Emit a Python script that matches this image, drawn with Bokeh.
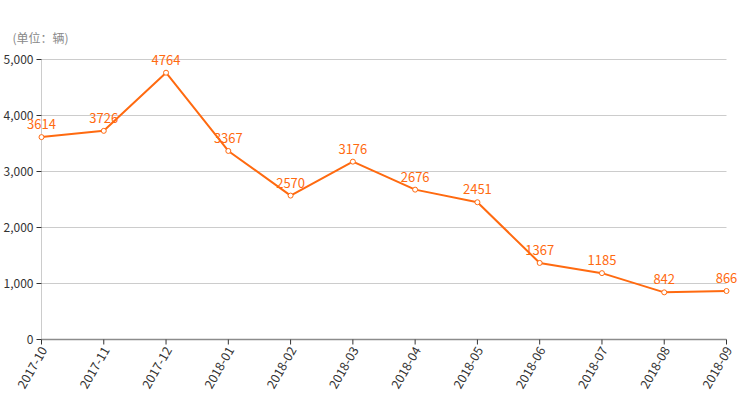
import math
from bokeh.plotting import figure
from bokeh.models import ColumnDataSource, Range1d
from bokeh.core.properties import value
from bokeh.embed import file_html
from bokeh.resources import INLINE

months = ["2017-10", "2017-11", "2017-12", "2018-01", "2018-02", "2018-03",
          "2018-04", "2018-05", "2018-06", "2018-07", "2018-08", "2018-09"]
sales = [3614, 3726, 4764, 3367, 2570, 3176, 2676, 2451, 1367, 1185, 842, 866]
y_ticks = [0, 1000, 2000, 3000, 4000, 5000]
unit_label = "(单位：辆)"

FONT = value("Noto Sans CJK SC")
ORANGE = "#ff6a10"

W, H = 756, 400
LEFT, RIGHT, TOP, BOTTOM = 41, 30, 59, 61
n = len(months)
ymax = y_ticks[-1]
xs = list(range(n))
px_x = (W - LEFT - RIGHT) / (n - 1)
px_y = (H - TOP - BOTTOM) / ymax

p = figure(width=W, height=H, output_backend="svg", toolbar_location=None,
           x_axis_type=None, y_axis_type=None,
           x_range=Range1d(-LEFT / px_x, (n - 1) + RIGHT / px_x),
           y_range=Range1d(-BOTTOM / px_y, ymax + TOP / px_y),
           min_border=0)
p.outline_line_color = None
p.grid.visible = False
p.background_fill_color = "white"
p.border_fill_color = "white"

# grid lines
grid_src = ColumnDataSource(dict(x0=[0] * (len(y_ticks) - 1), x1=[n - 1] * (len(y_ticks) - 1),
                                 y=y_ticks[1:]))
p.segment(x0="x0", y0="y", x1="x1", y1="y", source=grid_src, line_color="#cccccc", line_width=1)

# y axis
p.segment(x0=[0], y0=[0], x1=[0], y1=[ymax], line_color="#cccccc", line_width=1)
ytick_src = ColumnDataSource(dict(x=[0] * len(y_ticks), y=y_ticks, t=[f"{v:,}" for v in y_ticks]))
p.ray(x="x", y="y", source=ytick_src, length=5, length_units="screen", angle=math.pi,
      line_color="#333333", line_width=1)
p.text(x="x", y="y", text="t", source=ytick_src, x_offset=-8, text_align="right",
       text_baseline="middle", text_font=FONT, text_font_size="12px", text_color="#333333")

# x axis
p.segment(x0=[0], y0=[0], x1=[n - 1], y1=[0], line_color="#8c8c8c", line_width=1.5)
xtick_src = ColumnDataSource(dict(x=xs, y=[0] * n, t=months))
p.ray(x="x", y="y", source=xtick_src, length=5, length_units="screen", angle=-math.pi / 2,
      line_color="#333333", line_width=1)
p.text(x="x", y="y", text="t", source=xtick_src, angle=math.pi / 3, x_offset=2, y_offset=8,
       text_align="right", text_baseline="middle", text_font=FONT, text_font_size="12.5px",
       text_color="#333333")

# unit label
p.text(x=[0], y=[ymax], text=[unit_label], x_offset=-29, y_offset=-22, text_align="left",
       text_baseline="middle", text_font=FONT, text_font_size="12px", text_color="#888888")

# series
src = ColumnDataSource(dict(x=xs, y=sales, t=[str(v) for v in sales]))
p.line("x", "y", source=src, line_color=ORANGE, line_width=2)
p.scatter("x", "y", source=src, size=5, fill_color="white", line_color=ORANGE, line_width=1)
p.text("x", "y", text="t", source=src, text_align="center", text_baseline="bottom",
       y_offset=-8, text_font=FONT, text_font_size="13px", text_color=ORANGE)

open("out.html", "w").write(file_html(p, INLINE))
